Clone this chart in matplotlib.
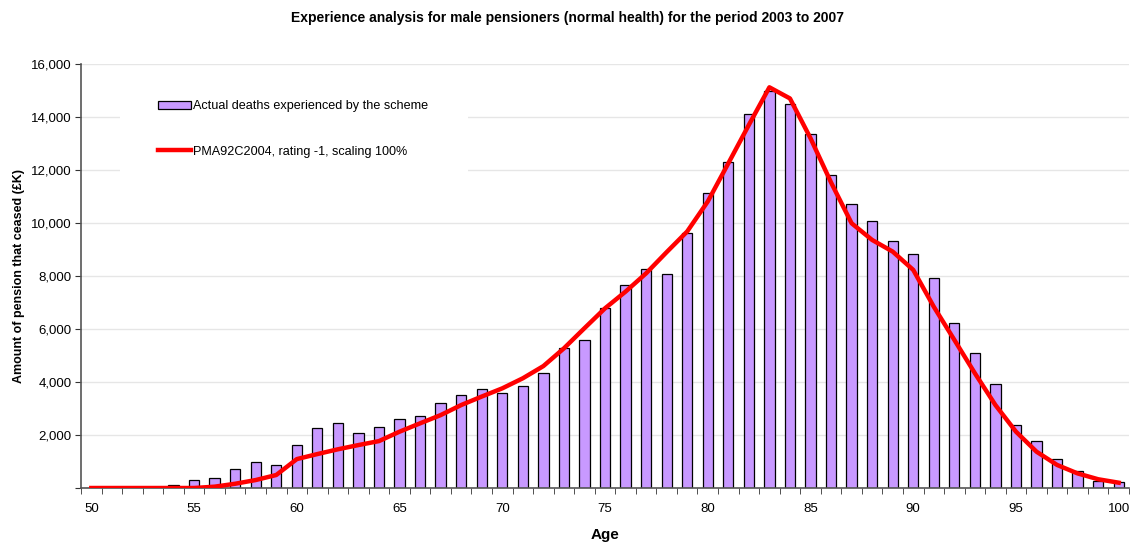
import numpy as np
import matplotlib
matplotlib.use("Agg")
import matplotlib.pyplot as plt
from matplotlib.patches import Rectangle
from matplotlib.ticker import FuncFormatter, FixedLocator

plt.rcParams['font.family'] = ['Liberation Sans', 'DejaVu Sans']

# Data
ages = np.arange(50, 101)
actual = [0, 0, 0, 0, 100, 300, 390, 700, 990, 870,
          1630, 2250, 2440, 2090, 2290, 2600, 2700, 3200, 3510, 3720,
          3600, 3860, 4350, 5270, 5570, 6800, 7660, 8280, 8060, 9630,
          11140, 12310, 14110, 14990, 14500, 13360, 11810, 10730, 10060, 9310,
          8840, 7940, 6240, 5090, 3920, 2390, 1790, 1080, 640, 280,
          215]
expected = [0, 0, 0, 0, 0, 0, 50, 160, 300, 490,
            1090, 1280, 1460, 1620, 1770, 2125, 2440, 2750, 3130, 3450,
            3760, 4140, 4600, 5270, 6030, 6780, 7410, 8100, 8900, 9680,
            10810, 12250, 13700, 15120, 14700, 13200, 11530, 9990, 9360, 8920,
            8230, 6840, 5590, 4330, 3130, 2125, 1370, 870, 550, 330,
            200]

fig = plt.figure(figsize=(11.35, 5.45), dpi=100)
ax = fig.add_axes([0.0714, 0.1046, 0.9233, 0.778])

# grid
for v in range(2000, 16001, 2000):
    ax.axhline(v, color='#e6e6e6', lw=1, zorder=0.2)

bars = ax.bar(ages, actual, width=0.5, color='#c899ff', edgecolor='black',
              linewidth=0.9, zorder=2, label='Actual deaths experienced by the scheme')
line, = ax.plot(ages, expected, color='#ff0000', lw=3.2, zorder=3,
                solid_joinstyle='round', label='PMA92C2004, rating -1, scaling 100%')

# white box behind the legend
ax.add_patch(Rectangle((0.037, 0.738), 0.332, 0.236, transform=ax.transAxes,
                       facecolor='white', edgecolor='none', zorder=0.3))
ax.legend(handles=[bars, line], loc='upper left', bbox_to_anchor=(0.0735, 0.915),
          frameon=False, fontsize=9.1, handlelength=2.6, handleheight=0.6,
          handletextpad=0.2, labelspacing=2.65, borderaxespad=0, borderpad=0)

ax.set_xlim(49.5, 100.5)
ax.set_ylim(0, 16000)
ax.yaxis.set_major_locator(FixedLocator(range(0, 16001, 2000)))
ax.yaxis.set_major_formatter(FuncFormatter(lambda v, p: '' if v == 0 else f'{int(v):,}'))
ax.set_xticks(range(50, 101, 5))
ax.set_xticks(np.arange(49.5, 100.6, 1), minor=True)
ax.tick_params(axis='x', which='major', length=0, labelsize=9.5, pad=11)
ax.tick_params(axis='x', which='minor', length=4, color='#333333')
ax.tick_params(axis='y', length=4, labelsize=9.5, color='#333333', pad=3)

for s in ['top', 'right']:
    ax.spines[s].set_visible(False)
for s in ['left', 'bottom']:
    ax.spines[s].set_color('#555555')
    ax.spines[s].set_linewidth(1.2)

ax.set_xlabel('Age', fontsize=11, fontweight='bold', labelpad=9)
ax.set_ylabel('Amount of pension that ceased (£K)', fontsize=9, fontweight='bold', labelpad=4)
fig.suptitle('Experience analysis for male pensioners (normal health) for the period 2003 to 2007',
             fontsize=10, fontweight='bold', y=0.979)

fig.savefig('out.png', dpi=100)
